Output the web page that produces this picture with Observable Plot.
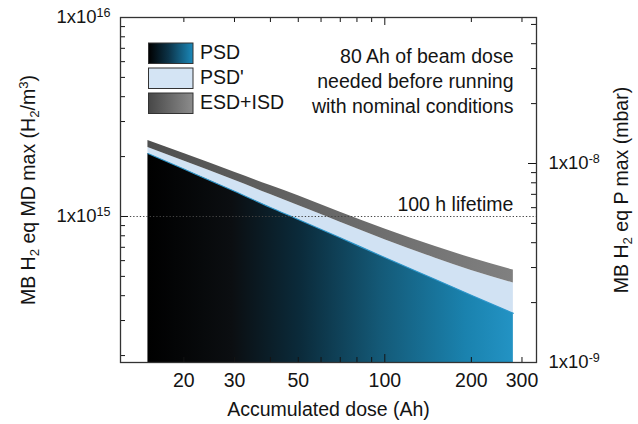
<!DOCTYPE html>
<html><head><meta charset="utf-8">
<script src="https://cdn.jsdelivr.net/npm/d3@7"></script>
<script src="https://cdn.jsdelivr.net/npm/@observablehq/plot@0.6"></script>
<style>body{margin:0;background:#fff}</style>
</head><body><div id="chart"></div>
<script>
// ---- data ----
const doses    = [15, 20, 30, 40, 50, 70, 100, 150, 200, 280];
const psd      = [2.07e15, 1.73e15, 1.34e15, 1.11e15, 9.67e14, 7.81e14, 6.22e14, 4.82e14, 4.02e14, 3.26e14];
const psdPrime = [2.22e15, 1.90e15, 1.52e15, 1.29e15, 1.136e15, 9.36e14, 7.64e14, 6.17e14, 5.36e14, 4.63e14];
const esdIsd   = [2.41e15, 2.07e15, 1.67e15, 1.43e15, 1.27e15, 1.05e15, 8.66e14, 7.06e14, 6.18e14, 5.38e14];

const xTickLabels = [20, 30, 50, 100, 200, 300];
const xMinorTicks = [20, 30, 40, 50, 60, 70, 80, 90, 200, 300];
const xMajorTicks = [100];
const yLeftMajor  = [1e15, 1e16];
const yLeftMinor  = [2e14, 3e14, 4e14, 5e14, 6e14, 7e14, 8e14, 9e14, 2e15, 3e15, 4e15, 5e15, 6e15, 7e15, 8e15, 9e15];
const yRightMajor = [1e-9, 1e-8];
const yRightMinor = [2e-9, 3e-9, 4e-9, 5e-9, 6e-9, 7e-9, 8e-9, 9e-9, 2e-8, 3e-8, 4e-8, 5e-8];
const xDomain = [12.04, 337];
const yDomain = [1.846e14, 1e16];
const mdToMbar = 1e-9 / 1.846e14;   // right-axis conversion
const lifetimeLevel = 1e15;
const lifetimeLabel = "100 h lifetime";
const legendItems = ["PSD", "PSD'", "ESD+ISD"];
const noteLines = ["80 Ah of beam dose", "needed before running", "with nominal conditions"];
const xTitle = "Accumulated dose (Ah)";
const yLeftTitle = "MB H_{2} eq MD max (H_{2}/m^{3})";
const yRightTitle = "MB H_{2} eq P max (mbar)";

const rows = doses.map((x, i) => ({x, psd: psd[i], psdPrime: psdPrime[i], total: esdIsd[i]}));

// ---- layout ----
const W = 638, H = 424, mL = 120, mR = 102, mT = 17, mB = 62;
const FW = W - mL - mR, FH = H - mT - mB;
const minor = 5, major = 8;
const ink = "#141414";
const font = "Liberation Sans, Arial, Helvetica, sans-serif";
const curve = "monotone-x";

const svg = Plot.plot({
  width: W, height: H,
  marginLeft: mL, marginRight: mR, marginTop: mT, marginBottom: mB,
  style: {fontFamily: font, fontSize: "19px", color: ink, background: "#fff", overflow: "visible"},
  x: {type: "log", domain: xDomain},
  y: {type: "log", domain: yDomain},
  marks: [
    Plot.areaY(rows, {x: "x", y1: yDomain[0], y2: "psd", fill: "url(#gPSD)", curve}),
    Plot.areaY(rows, {x: "x", y1: "psd", y2: "psdPrime", fill: "#d1e2f3", curve}),
    Plot.areaY(rows, {x: "x", y1: "psdPrime", y2: "total", fill: "url(#gGray)", curve}),
    Plot.lineY(rows, {x: "x", y: "psd", stroke: "#2f97cc", strokeWidth: 1.1, curve}),
    Plot.ruleY([lifetimeLevel], {stroke: "#444", strokeWidth: 1.1, strokeDasharray: "1.3,2"}),
    Plot.text([lifetimeLabel], {x: doses[doses.length - 1], y: lifetimeLevel, text: d => d,
      textAnchor: "end", lineAnchor: "middle", dy: -12, fontSize: 19.5, fill: ink}),
    Plot.text([noteLines.join("\n")], {frameAnchor: "top-right", text: d => d, dx: -23, dy: 28,
      textAnchor: "end", lineAnchor: "top", lineHeight: 25 / 19.5, fontSize: 19.5, fill: ink}),
    // inward ticks
    Plot.tickX(xMinorTicks, {x: d => d, insetTop: FH - minor, stroke: ink}),
    Plot.tickX(xMajorTicks, {x: d => d, insetTop: FH - major, stroke: ink}),
    Plot.tickX(xMinorTicks, {x: d => d, insetBottom: FH - minor, stroke: ink}),
    Plot.tickX(xMajorTicks, {x: d => d, insetBottom: FH - major, stroke: ink}),
    Plot.tickY(yLeftMinor, {y: d => d, insetRight: FW - minor, stroke: ink}),
    Plot.tickY(yLeftMajor, {y: d => d, insetRight: FW - major, stroke: ink}),
    Plot.tickY(yRightMinor.map(v => v / mdToMbar), {y: d => d, insetLeft: FW - minor, stroke: ink}),
    Plot.tickY(yRightMajor.map(v => v / mdToMbar), {y: d => d, insetLeft: FW - major, stroke: ink}),
    // tick labels
    Plot.axisX({ticks: xTickLabels, tickSize: 0, tickPadding: 11, tickFormat: d => String(d), label: null, fontSize: 19.5}),
    Plot.axisY({anchor: "left", ticks: yLeftMajor, tickSize: 0, tickPadding: 10,
      tickFormat: d => `1x10^{${Math.round(Math.log10(d))}}`, label: null, fontSize: 18.5}),
    Plot.axisY({anchor: "right", ticks: yRightMajor.map(v => v / mdToMbar), tickSize: 0, tickPadding: 12,
      tickFormat: d => `1x10^{${Math.round(Math.log10(d * mdToMbar))}}`, label: null, fontSize: 18.5}),
    // axis titles
    Plot.text([xTitle], {frameAnchor: "bottom", text: d => d, dy: 47, textAnchor: "middle", lineAnchor: "middle", fontSize: 19.5, fill: ink}),
    Plot.text([yLeftTitle], {frameAnchor: "left", text: d => d, rotate: -90, dx: -92, textAnchor: "middle", lineAnchor: "middle", fontSize: 19.5, fill: ink}),
    Plot.text([yRightTitle], {frameAnchor: "right", text: d => d, rotate: -90, dx: 85, textAnchor: "middle", lineAnchor: "middle", fontSize: 19.5, fill: ink}),
    Plot.frame({stroke: "#333", strokeWidth: 1.3})
  ]
});
document.getElementById("chart").appendChild(svg);

// gradients
const s = d3.select(svg);
const defs = s.insert("defs", ":first-child");
function grad(id, stops) {
  const g = defs.append("linearGradient").attr("id", id).attr("x1", 0).attr("x2", 1).attr("y1", 0).attr("y2", 0);
  stops.forEach(([o, c]) => g.append("stop").attr("offset", o).attr("stop-color", c));
}
grad("gPSD", [[0, "#000000"], [0.23, "#0b0e11"], [0.42, "#0b2b3b"], [0.64, "#145a78"], [0.87, "#1a82ae"], [1, "#2393c4"]]);
grad("gGray", [[0, "#4f4f4f"], [1, "#808080"]]);
grad("gLegPSD", [[0, "#000000"], [0.45, "#0c3348"], [1, "#1b89ba"]]);
grad("gLegGray", [[0, "#474747"], [1, "#8c8c8c"]]);

// legend
const legFills = ["url(#gLegPSD)", "#d4e4f4", "url(#gLegGray)"];
const lg = s.append("g").attr("text-anchor", "start");
legendItems.forEach((name, i) => {
  lg.append("rect").attr("x", 148.5).attr("y", 43 + i * 25).attr("width", 44.5).attr("height", 20.5)
    .attr("fill", legFills[i]).attr("stroke", "#333").attr("stroke-width", 1);
  lg.append("text").attr("x", 200).attr("y", 59 + i * 25).attr("fill", ink)
    .attr("text-anchor", "start").attr("font-size", 19.5).attr("font-family", font).text(name);
});

// sub/superscript markup
function rich(el) {
  const str = el.textContent;
  if (!/[\^_]\{/.test(str)) return;
  const fs = parseFloat(getComputedStyle(el).fontSize) || 19;
  el.textContent = "";
  const re = /([\^_])\{([^}]*)\}/g;
  let last = 0, m, cur = 0;
  const add = (txt, kind) => {
    if (!txt) return;
    const t = document.createElementNS("http://www.w3.org/2000/svg", "tspan");
    const target = kind === "^" ? -0.36 * fs : kind === "_" ? 0.22 * fs : 0;
    if (target !== cur) t.setAttribute("dy", (target - cur).toFixed(2));
    cur = target;
    if (kind) t.setAttribute("font-size", (0.68 * fs).toFixed(2));
    t.textContent = txt;
    el.appendChild(t);
  };
  while ((m = re.exec(str))) { add(str.slice(last, m.index), null); add(m[2], m[1]); last = re.lastIndex; }
  add(str.slice(last), null);
}
svg.querySelectorAll("text").forEach(rich);
</script></body></html>
